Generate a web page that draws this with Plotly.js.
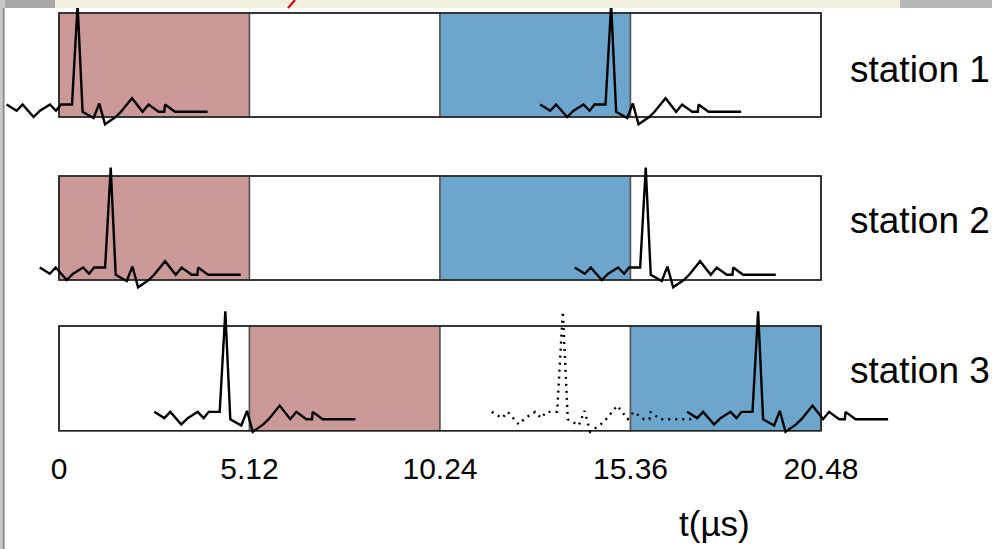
<!DOCTYPE html>
<html>
<head>
<meta charset="utf-8">
<script src="https://cdn.plot.ly/plotly-3.0.1.min.js"></script>
<style>html,body{margin:0;padding:0;background:#fff;}#chart{width:992px;height:549px;}</style>
</head>
<body>
<div id="chart"></div>
<script>
// ---------------- data ----------------
const stationNames = ["station 1", "station 2", "station 3"];
const windowBounds = [0, 5.12, 10.24, 15.36, 20.48];        // µs
const tickText = ["0", "5.12", "10.24", "15.36", "20.48"];
// window phase per station segment: "A" = first window, "B" = second window, "" = idle
const station1Windows = ["A", "", "B", ""];
const station2Windows = ["A", "", "B", ""];
const station3Windows = ["", "A", "", "B"];
// pulse template: time offset from spike (µs) and amplitude (fraction of row height)
const pulseOffsetUs = [-1.908, -1.639, -1.478, -1.183, -1.011, -0.742, -0.581, -0.446, -0.151, 0,
                       0.134, 0.430, 0.583, 0.736, 1.020, 1.166, 1.462, 1.747, 1.908, 2.177, 2.330, 2.349, 2.618, 3.494];
const pulseAmp = [0.12, 0.06, 0.12, 0.0, 0.06, 0.12, 0.06, 0.12, 0.12, 1.08,
                  0.05, -0.01, 0.13, -0.07, 0.00, 0.05, 0.18, 0.05, 0.12, 0.05, 0.05, 0.12, 0.05, 0.05];
// spike times (µs) of the received pulses
const station1Spikes = [0.50, 14.84];
const station2Spikes = [1.39, 15.77];
const station3Spikes = [4.47, 18.79];
const station3DottedSpikes = [13.54];
const stationLift = [0, 0, 0.06];
const xTitle = "t(µs)";

// ---------------- layout helpers ----------------
const FONT = "Liberation Sans, Arial, Helvetica, sans-serif";
const W = 992, H = 549;
const mB = 101;
const plotH = H - mB;
const pxPerUs = 762 / 20.48;
const x0px = 59;
const rowBottomPx = [117, 280, 430.7];
const rowHeightPx = [104, 104, 104.7];
const labelPx = [69.5, 220, 370];
const colors = {A: "#cc9999", B: "#6ca6cd", "": "#ffffff"};

const xRange = [-x0px / pxPerUs, (W - x0px) / pxPerUs];
const yNames = ["y", "y2", "y3"];
const windows = [station1Windows, station2Windows, station3Windows];
const spikes = [station1Spikes, station2Spikes, station3Spikes];

const traces = [];
function addPulse(t0, s, dash) {
  traces.push({
    type: "scatter", mode: "lines",
    x: pulseOffsetUs.map(d => t0 + d),
    y: pulseAmp.map(a => a + stationLift[s]),
    xaxis: "x", yaxis: yNames[s],
    line: {color: "#000", width: 2.4, dash: dash || "solid"},
    showlegend: false, hoverinfo: "skip"
  });
}
spikes.forEach((arr, s) => arr.forEach(t => addPulse(t, s)));
station3DottedSpikes.forEach(t => addPulse(t, 2, "2px,5px"));

const shapes = [];
const annotations = [];
const layout = {
  width: W, height: H,
  margin: {l: 0, r: 0, t: 0, b: mB},
  paper_bgcolor: "#fff", plot_bgcolor: "#fff",
  showlegend: false,
  font: {family: FONT, color: "#000"},
  xaxis: {
    range: xRange, showgrid: false, zeroline: false, showline: false,
    tickmode: "array", tickvals: windowBounds, ticktext: tickText, ticks: "",
    tickfont: {family: FONT, size: 30, color: "#000"},
    anchor: "y", fixedrange: true
  },
  shapes: shapes, annotations: annotations
};
yNames.forEach((yn, s) => {
  const B = rowBottomPx[s], h = rowHeightPx[s];
  const key = s === 0 ? "yaxis" : "yaxis" + (s + 1);
  layout[key] = {
    range: [(B - plotH) / h, B / h], visible: false, fixedrange: true,
    showgrid: false, zeroline: false
  };
  if (s > 0) layout[key].overlaying = "y";
  windows[s].forEach((ph, i) => {
    shapes.push({type: "rect", xref: "x", yref: yn, layer: "below",
      x0: windowBounds[i], x1: windowBounds[i + 1], y0: 0, y1: 1,
      fillcolor: colors[ph], line: {color: "#555", width: 1.5}});
  });
  shapes.push({type: "rect", xref: "x", yref: yn, layer: "below",
    x0: windowBounds[0], x1: windowBounds[windowBounds.length - 1], y0: 0, y1: 1,
    fillcolor: "rgba(0,0,0,0)", line: {color: "#222", width: 1.6}});
  annotations.push({
    text: stationNames[s], xref: "paper", yref: "paper",
    x: 848 / W, y: (plotH - labelPx[s]) / plotH, xanchor: "left", yanchor: "middle",
    showarrow: false, font: {family: FONT, size: 37, color: "#000"}
  });
});
annotations.push({
  text: xTitle, xref: "paper", yref: "paper",
  x: 714 / W, y: (plotH - 523) / plotH, xanchor: "center", yanchor: "middle",
  showarrow: false, font: {family: FONT, size: 35, color: "#000"}
});
// slide decorations (background behind the figure)
const py = px => (plotH - px) / plotH;
shapes.push({type: "rect", xref: "paper", yref: "paper", layer: "above",
  x0: 55 / W, x1: 900 / W, y0: py(8), y1: py(0), fillcolor: "#f3efdf", line: {width: 0}});
shapes.push({type: "rect", xref: "paper", yref: "paper", layer: "above",
  x0: 0, x1: 55 / W, y0: py(8), y1: py(0), fillcolor: "#a9a9a9", line: {width: 0}});
shapes.push({type: "rect", xref: "paper", yref: "paper", layer: "above",
  x0: 900 / W, x1: 1, y0: py(8), y1: py(0), fillcolor: "#b8b8b8", line: {width: 0}});
shapes.push({type: "line", xref: "paper", yref: "paper", layer: "above",
  x0: 288 / W, x1: 295 / W, y0: py(8), y1: py(0), line: {color: "#cc0000", width: 2}});
shapes.push({type: "rect", xref: "paper", yref: "paper", layer: "above",
  x0: 0, x1: 5 / W, y0: py(H), y1: py(0), fillcolor: "#c8c8c8", line: {width: 0}});
shapes.push({type: "line", xref: "paper", yref: "paper", layer: "above",
  x0: 3.5 / W, x1: 3.5 / W, y0: py(H), y1: py(8), line: {color: "#8a8a8a", width: 1.5}});

Plotly.newPlot("chart", traces, layout, {displayModeBar: false, staticPlot: true});
</script>
</body>
</html>
